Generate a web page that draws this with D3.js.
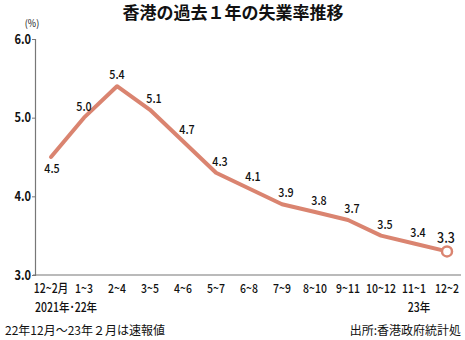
<!DOCTYPE html>
<html>
<head>
<meta charset="utf-8">
<script src="https://cdn.jsdelivr.net/npm/d3@7"></script>
<style>
  html, body { margin: 0; padding: 0; background: #fff; }
  svg { display: block; }
  text { font-family: "Noto Sans CJK JP", "Noto Sans", sans-serif; fill: #111; }
</style>
</head>
<body>
<svg id="chart" width="465" height="340"></svg>
<script>
// Unemployment rate, 3-month moving periods
const periods = ["12~2月", "1~3", "2~4", "3~5", "4~6", "5~7", "6~8", "7~9", "8~10", "9~11", "10~12", "11~1", "12~2"];
const rates = [4.5, 5.0, 5.4, 5.1, 4.7, 4.3, 4.1, 3.9, 3.8, 3.7, 3.5, 3.4, 3.3];
const yTicks = [3.0, 4.0, 5.0, 6.0];
const yearNotes = [["12~2月", "2021年･22年"], ["11~1", "23年"]];

const svg = d3.select("#chart");
const lineColor = "#da8470";

const x = d3.scalePoint().domain(periods).range([51, 447]);
const y = d3.scaleLinear().domain([3, 6]).range([275, 39]);

// Condensed text: placed with a translate, then squeezed horizontally
function narrowText(sel, sx) {
  return sel.attr("transform", function () {
    const t = d3.select(this);
    return `translate(${t.attr("data-x")},${t.attr("data-y")}) scale(${sx},1)`;
  });
}

// Title
svg.append("text")
  .attr("x", 233).attr("y", 19)
  .attr("text-anchor", "middle")
  .attr("font-size", 17).attr("font-weight", 700)
  .text("香港の過去１年の失業率推移");

// Unit
svg.append("text")
  .attr("data-x", 32).attr("data-y", 27)
  .attr("text-anchor", "middle")
  .attr("font-size", 10)
  .text("(%)")
  .call(narrowText, 0.9);

// Y axis
const yAxis = svg.append("g")
  .attr("transform", "translate(35,0)")
  .call(d3.axisLeft(y).tickValues(yTicks).tickFormat(d3.format(".1f")).tickSize(3).tickPadding(0));
yAxis.select(".domain").attr("stroke", "#777").attr("stroke-width", 1.2);
yAxis.selectAll(".tick line").attr("stroke", "#777");
yAxis.selectAll(".tick text")
  .attr("font-size", 13).attr("font-weight", 700).attr("fill", "#111")
  .attr("font-family", "Noto Sans CJK JP, sans-serif")
  .attr("transform", "scale(0.85,1)")
  .attr("x", -4 / 0.85);

// X baseline
svg.append("line")
  .attr("x1", 33).attr("x2", 461)
  .attr("y1", y(3)).attr("y2", y(3))
  .attr("stroke", "#777").attr("stroke-width", 1.2);

// X labels
svg.append("g").selectAll("text")
  .data(periods)
  .join("text")
  .attr("data-x", d => x(d))
  .attr("data-y", 293)
  .attr("text-anchor", "middle")
  .attr("font-size", 12.5).attr("font-weight", 500)
  .text(d => d)
  .call(narrowText, 0.84);

svg.append("g").selectAll("text")
  .data(yearNotes)
  .join("text")
  .attr("data-x", (d, i) => i === 0 ? 35 : x(d[0]) + 5)
  .attr("data-y", 312)
  .attr("text-anchor", (d, i) => i === 0 ? "start" : "middle")
  .attr("font-size", 12.5).attr("font-weight", 500)
  .text(d => d[1])
  .call(narrowText, 0.84);

// Line
svg.append("path")
  .datum(rates)
  .attr("fill", "none")
  .attr("stroke", lineColor)
  .attr("stroke-width", 4)
  .attr("stroke-linejoin", "round")
  .attr("stroke-linecap", "round")
  .attr("d", d3.line().x((d, i) => x(periods[i])).y(d => y(d)));

// End marker
const last = rates.length - 1;
svg.append("circle")
  .attr("cx", x(periods[last])).attr("cy", y(rates[last]))
  .attr("r", 5)
  .attr("fill", "#fff")
  .attr("stroke", lineColor)
  .attr("stroke-width", 2.5);

// Value labels
svg.append("g").selectAll("text")
  .data(rates)
  .join("text")
  .attr("data-x", (d, i) => x(periods[i]) + (i === 0 ? 1 : i === 1 || i === 2 ? 0 : i === last ? -1 : 4))
  .attr("data-y", (d, i) => i === 0 ? y(d) + 16 : i === last ? y(d) - 8 : y(d) - 7)
  .attr("text-anchor", "middle")
  .attr("font-size", (d, i) => i === last ? 14.5 : 12.5)
  .attr("font-weight", 500)
  .text(d => d.toFixed(1))
  .call(narrowText, 0.86);

// Footnotes
svg.append("text")
  .attr("x", 5).attr("y", 335)
  .attr("font-size", 12)
  .text("22年12月～23年２月は速報値");

svg.append("text")
  .attr("x", 461).attr("y", 335)
  .attr("text-anchor", "end")
  .attr("font-size", 12)
  .text("出所:香港政府統計処");
</script>
</body>
</html>
